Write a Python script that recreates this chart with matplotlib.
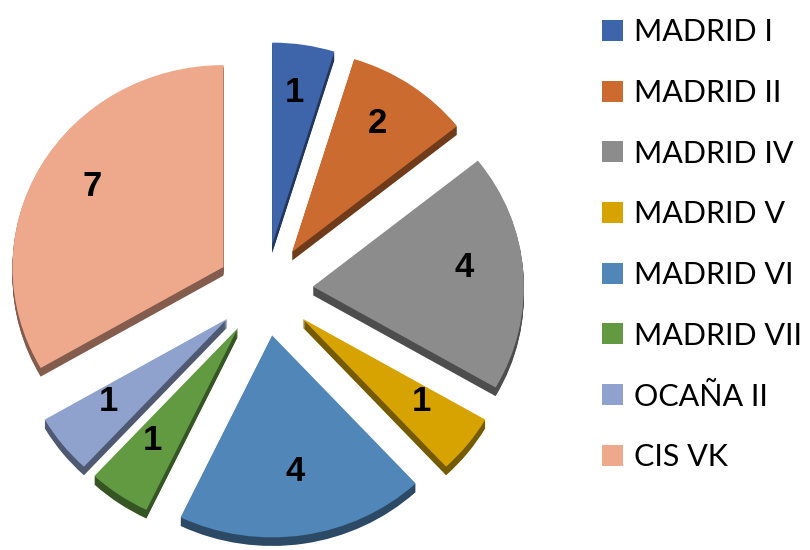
import matplotlib.pyplot as plt
import matplotlib.colors as mcolors

labels = ['MADRID I', 'MADRID II', 'MADRID IV', 'MADRID V',
          'MADRID VI', 'MADRID VII', 'OCAÑA II', 'CIS VK']
values = [1, 2, 4, 1, 4, 1, 1, 7]
colors = ['#3E64AA', '#CC6B30', '#8C8C8C', '#D7A300',
          '#5086B8', '#629A42', '#8FA2CE', '#EEA88C']

plt.rcParams['font.family'] = ['Lato', 'DejaVu Sans']

W, H = 810, 550
yscale = 0.957  # slight tilt: vertical squash of the pie

fig = plt.figure(figsize=(W / 100, H / 100), dpi=100)
ax = fig.add_axes([0, 0, 1, 1])

center = (265, (H - 290) / yscale)
radius = 211
explode = [48] * len(values)  # data units ~ pixels
total = sum(values)


def darker(c, f=0.55):
    r, g, b = mcolors.to_rgb(c)
    return (r * f, g * f, b * f)


# extruded side of each slice
for d in range(9, 0, -1):
    ax.pie(values, colors=[darker(c) for c in colors], startangle=90,
           counterclock=False, explode=explode, radius=radius,
           center=(center[0], center[1] - d), frame=True)

wedges, _, autotexts = ax.pie(
    values, colors=colors, startangle=90, counterclock=False,
    explode=explode, radius=radius, center=center, frame=True,
    autopct=lambda p: f'{round(p * total / 100)}', pctdistance=0.72,
    textprops=dict(fontsize=25, fontweight='bold', color='black',
                   family=['Liberation Sans', 'DejaVu Sans']))
# labels sit a little higher on the tilted top face
for t in autotexts:
    t.set_y(t.get_position()[1] + 8 / yscale)

ax.set_aspect('auto')
ax.set_xlim(0, W)
ax.set_ylim(0, H / yscale)
ax.axis('off')

ax.legend(wedges, labels, loc='upper left', bbox_to_anchor=(590 / W, 1 - 6 / H),
          bbox_transform=fig.transFigure, frameon=False, fontsize=22,
          handlelength=0.68, handleheight=0.68, handletextpad=0.35,
          labelspacing=1.07, borderaxespad=0)

fig.savefig('out.png', dpi=100)
